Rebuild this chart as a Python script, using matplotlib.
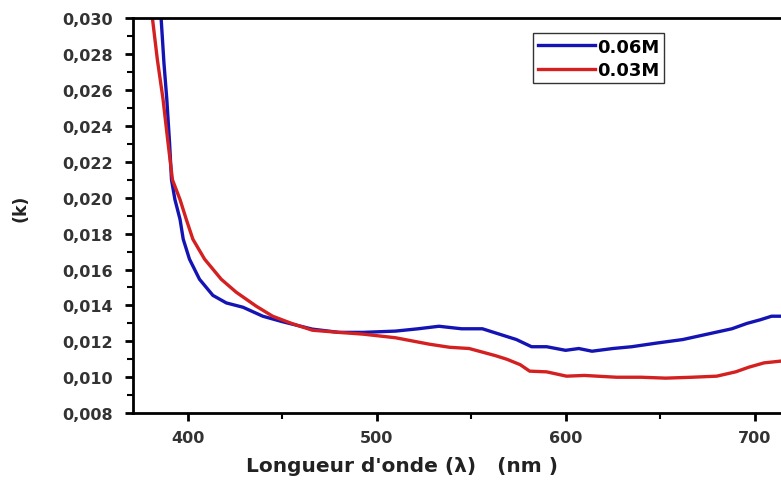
import matplotlib.pyplot as plt
from matplotlib.ticker import MultipleLocator, FuncFormatter

# blue curve, 0.06M
wl_06 = [386, 387.5, 389, 390.5, 391.5, 393.3, 396, 397.7, 401, 406.3, 413.4, 420.5,
         429.3, 439.8, 450, 466, 480, 493, 510, 522, 533, 545, 556, 565, 574, 582, 590,
         600, 607, 614, 625, 635, 648, 662, 675, 688, 696, 703, 709, 714]
k_06 = [0.0300, 0.0275, 0.0255, 0.0230, 0.0210, 0.0199, 0.0188, 0.01769, 0.01658,
        0.01546, 0.01456, 0.01414, 0.0139, 0.0134, 0.0131, 0.01268, 0.0125, 0.0125,
        0.01257, 0.0127, 0.01284, 0.0127, 0.0127, 0.0124, 0.0121, 0.0117, 0.0117,
        0.0115, 0.0116, 0.01145, 0.0116, 0.0117, 0.0119, 0.0121, 0.0124, 0.0127,
        0.0130, 0.0132, 0.0134, 0.0134]

# red curve, 0.03M
wl_03 = [381.4, 384, 387, 389.5, 392, 396, 399.3, 402.8, 409, 417.8, 425.7, 436.3, 445,
         455, 466, 480, 493, 510, 528, 538.6, 549, 556, 563, 569, 576, 581, 590, 600.5,
         610, 627, 640, 653, 667, 680, 690, 697, 705, 714]
k_03 = [0.0300, 0.0277, 0.0255, 0.0232, 0.0210, 0.0199, 0.0188, 0.01769, 0.01658,
        0.01546, 0.01474, 0.01396, 0.0134, 0.0130, 0.01262, 0.0125, 0.0124, 0.0122,
        0.01184, 0.01167, 0.0116, 0.0114, 0.0112, 0.0110, 0.0107, 0.01034, 0.0103,
        0.01006, 0.0101, 0.0100, 0.0100, 0.00995, 0.0100, 0.01006, 0.0103, 0.01056,
        0.0108, 0.0109]

labels = ['0.06M', '0.03M']
colors = ['#1414b4', '#d42020']

fig = plt.figure(figsize=(7.81, 4.81), dpi=100)
ax = fig.add_axes([0.170, 0.139, 0.830, 0.821])

ax.plot(wl_06, k_06, color=colors[0], lw=2.4, label=labels[0])
ax.plot(wl_03, k_03, color=colors[1], lw=2.4, label=labels[1])

ax.set_xlim(371, 714)
ax.set_ylim(0.008, 0.030)

ax.xaxis.set_major_locator(MultipleLocator(100))
ax.xaxis.set_minor_locator(MultipleLocator(50))
ax.yaxis.set_major_locator(MultipleLocator(0.002))
ax.yaxis.set_minor_locator(MultipleLocator(0.001))
ax.yaxis.set_major_formatter(FuncFormatter(lambda v, p: ('%.3f' % v).replace('.', ',')))

for s in ['left', 'bottom', 'top']:
    ax.spines[s].set_linewidth(2)
ax.spines['right'].set_visible(False)

ax.tick_params(which='major', direction='out', length=6, width=2,
               labelsize=11.5, labelcolor='#333333', top=False, right=False)
ax.tick_params(axis='y', which='major', pad=8)
ax.tick_params(axis='x', which='major', pad=6)
ax.tick_params(which='minor', direction='out', length=4, width=1.5,
               top=False, right=False)
for t in ax.get_xticklabels() + ax.get_yticklabels():
    t.set_fontweight('bold')

ax.set_xlabel("Longueur d'onde (\u03bb)   (nm )", fontsize=14.5, fontweight='bold',
              color='#222222')
ax.xaxis.set_label_coords(0.415, -0.108)
ax.set_ylabel('(k)', fontsize=12.5, fontweight='bold', color='#222222')
ax.yaxis.set_label_coords(-0.160, 0.52)

leg = ax.legend(loc='upper left', bbox_to_anchor=(533 / 781, 1 - 34 / 481),
                bbox_transform=fig.transFigure, frameon=True, fancybox=False,
                prop={'weight': 'bold', 'size': 13}, handlelength=3.2,
                handletextpad=0.1, borderpad=0.25, labelspacing=0.3,
                borderaxespad=0)
leg.get_frame().set_edgecolor('black')
leg.get_frame().set_linewidth(1)
for line in leg.get_lines():
    line.set_linewidth(2.4)

fig.savefig('out.png', dpi=100)
